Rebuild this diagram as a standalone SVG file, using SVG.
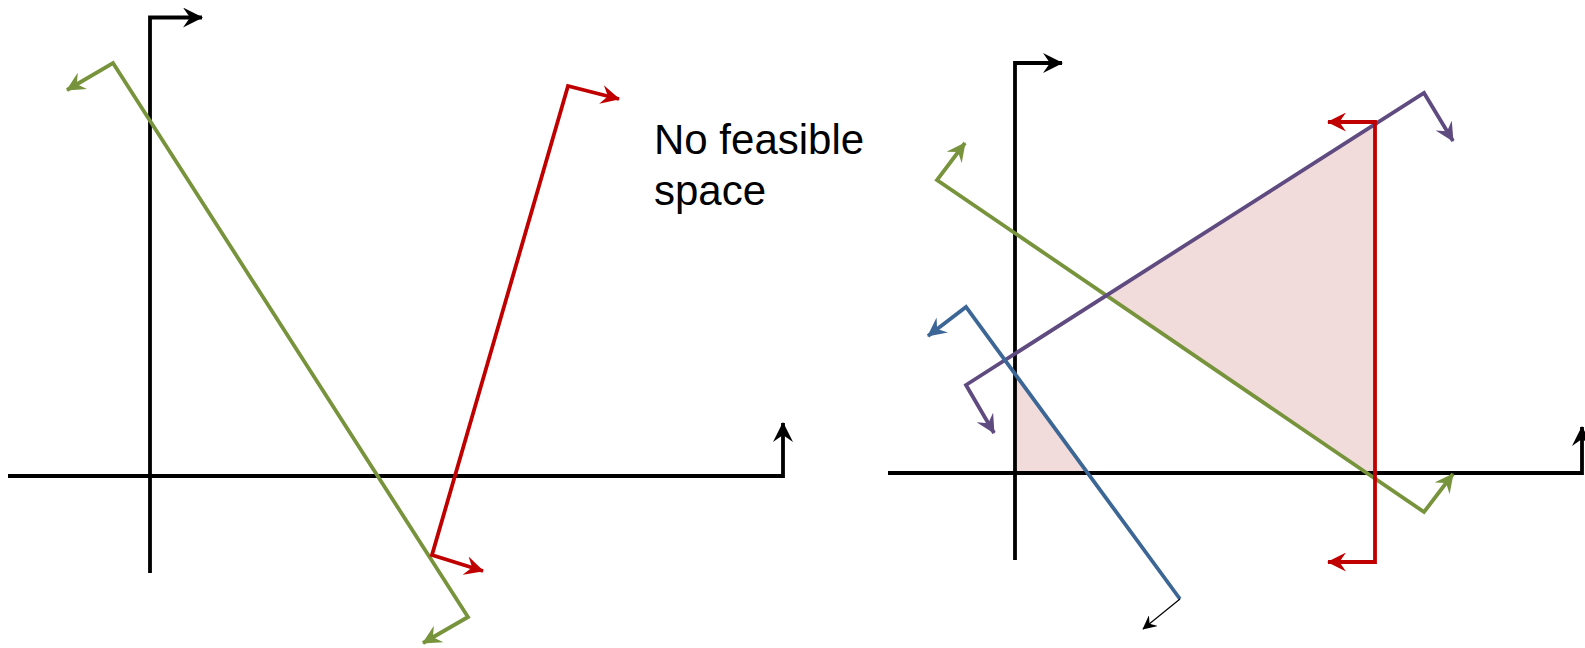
<svg xmlns="http://www.w3.org/2000/svg" width="1585" height="648" viewBox="0 0 1585 648">
<style>
.ln{fill:none;stroke-width:3.8;stroke-linejoin:miter;stroke-linecap:butt}
.k{stroke:#000}
.g{stroke:#77933c}
.r{stroke:#c00000}
.p{stroke:#5f4b80}
.b{stroke:#3b6696}
.lbl{font-family:"Liberation Sans",Arial,sans-serif;font-size:42px;fill:#000}
</style>
<defs>
<marker id="mk" viewBox="0 0 20 20" refX="19" refY="10" markerWidth="20" markerHeight="20" markerUnits="userSpaceOnUse" orient="auto-start-reverse"><path d="M0,0 L20,10 L0,20 L7,10 z" fill="#000"/></marker>
<marker id="mg" viewBox="0 0 20 20" refX="19" refY="10" markerWidth="19" markerHeight="19" markerUnits="userSpaceOnUse" orient="auto-start-reverse"><path d="M0,0 L20,10 L0,20 L7,10 z" fill="#77933c"/></marker>
<marker id="mr" viewBox="0 0 20 20" refX="19" refY="10" markerWidth="19" markerHeight="19" markerUnits="userSpaceOnUse" orient="auto-start-reverse"><path d="M0,0 L20,10 L0,20 L7,10 z" fill="#c00000"/></marker>
<marker id="mp" viewBox="0 0 20 20" refX="19" refY="10" markerWidth="19" markerHeight="19" markerUnits="userSpaceOnUse" orient="auto-start-reverse"><path d="M0,0 L20,10 L0,20 L7,10 z" fill="#5f4b80"/></marker>
<marker id="mb" viewBox="0 0 20 20" refX="19" refY="10" markerWidth="19" markerHeight="19" markerUnits="userSpaceOnUse" orient="auto-start-reverse"><path d="M0,0 L20,10 L0,20 L7,10 z" fill="#3b6696"/></marker>
<marker id="mks" viewBox="0 0 20 20" refX="19" refY="10" markerWidth="14" markerHeight="14" markerUnits="userSpaceOnUse" orient="auto-start-reverse"><path d="M0,0 L20,10 L0,20 L7,10 z" fill="#000"/></marker>
</defs>
<rect width="1585" height="648" fill="#fff"/>
<g id="feasible-region">
<polygon points="1015,374 1015,473 1088,473" fill="#f2dcdb"/>
<polygon points="1106,295.5 1375,124 1375,476" fill="#f2dcdb"/>
</g>
<g id="connectors">
<path class="ln k" d="M150,573 L150,17.5 L202,17.5" marker-end="url(#mk)"/>
<path class="ln k" d="M8,476 L783,476 L783,423" marker-end="url(#mk)"/>
<path class="ln g" d="M423,643 L468,617 L113,63 L67,90" marker-end="url(#mg)" marker-start="url(#mg)"/>
<path class="ln r" d="M483,571 L432,555 L568,86 L619,99" marker-end="url(#mr)" marker-start="url(#mr)"/>
<path class="ln k" d="M1015,560 L1015,63 L1062,63" marker-end="url(#mk)"/>
<path class="ln k" d="M888,473 L1582,473 L1582,427" marker-end="url(#mk)"/>
<path class="ln g" d="M965,143 L937,180 L1424,512 L1453,474" marker-end="url(#mg)" marker-start="url(#mg)"/>
<path class="ln p" d="M994,433 L966,385 L1424,93 L1453,141" marker-end="url(#mp)" marker-start="url(#mp)"/>
<path class="ln r" d="M1328,122 L1375,122 L1375,562 L1328,562" marker-end="url(#mr)" marker-start="url(#mr)"/>
<path class="ln b" d="M928,336 L966,307 L1180,599" marker-start="url(#mb)"/>
<path fill="none" stroke="#000" stroke-width="1.2" d="M1180,599 L1143,629" marker-end="url(#mks)"/>
</g>
<g id="label-no-feasible">
<text class="lbl" x="654" y="154">No feasible</text>
<text class="lbl" x="654" y="205">space</text>
</g>
</svg>
